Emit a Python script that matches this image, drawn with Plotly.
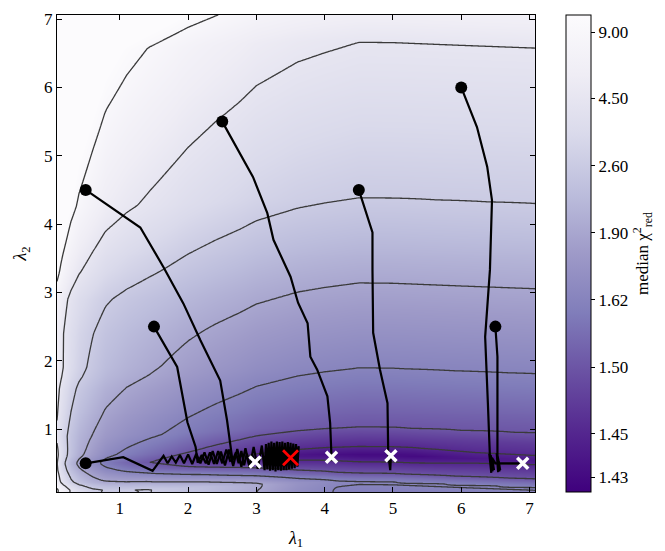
import numpy as np
import plotly.graph_objects as go

# ---------------- colour-bar ticks (normalised colour position -> label)
CB_POS = [0.031, 0.122, 0.262, 0.403, 0.543, 0.684, 0.826, 0.964]
CB_LABELS = ["1.43", "1.45", "1.50", "1.62", "1.90", "2.60", "4.50", "9.00"]
CONTOUR_START, CONTOUR_SIZE, CONTOUR_END = 0.122, 0.1405, 0.97

# ---------------- landscape description
S_X = [0.08, 0.5, 1.5, 2.2, 3.0, 4.0, 5.0, 6.0, 7.08]
S_Y = [-0.1, -0.1, -0.08, -0.04, 0.0, 0.03, 0.02, -0.02, -0.06]
U_Y = [-0.1, 0.1, 0.2, 0.28, 0.33, 0.42, 0.5, 0.6, 0.72, 1.0, 1.87, 3.11, 4.36, 6.66, 7.3]
U_V = [0.385, 0.39, 0.41, 0.33, 0.262, 0.19, 0.12, 0.03, 0.122, 0.262, 0.403, 0.543, 0.684, 0.826, 0.93]
B_X = [0.08, 0.15, 0.2, 0.28, 0.4, 0.6, 0.79, 1.1, 1.45, 2.0, 2.4, 2.75, 3.0, 3.6, 4.5, 7.08]
B_V = [0.8, 0.7, 0.65, 0.57, 0.49, 0.41, 0.34, 0.28, 0.23, 0.16, 0.12, 0.09, 0.065, 0.03, 0.0, 0.0]
M_Y = [-0.1, 0.1, 0.3, 0.5, 0.6, 0.8, 1.0, 1.3, 1.7, 2.0, 2.5, 3.0, 3.4, 4.5, 5.5, 7.3]
M_V = [0.7, 0.7, 0.75, 0.9, 1.0, 0.85, 0.68, 0.65, 0.6, 0.6, 0.52, 0.48, 0.52, 0.55, 0.57, 0.6]
BB_X = [0.08, 0.6, 1.0, 1.4, 2.2, 3.0, 3.6, 4.2, 7.08]
BB_V = [0.0, 0.0, 0.06, 0.12, 0.13, 0.11, 0.04, 0.0, 0.0]
WB_Y = [-0.1, 0.15, 0.35, 0.5]
WB_V = [1.0, 1.0, 0.6, 0.0]
R_X = [0.08, 5.3, 6.2, 7.08]
R_V = [0.0, 0.0, 0.04, 0.05]
W_Y = [0.35, 0.6, 0.85]
W_V = [0.0, 1.0, 0.0]

# ---------------- optimisation paths
T1_X = [0.5, 1.30, 1.64, 1.93, 2.18, 2.47, 2.57, 2.65, 2.70, 2.74, 2.78, 2.82, 2.86, 2.90, 2.94, 2.98]
T1_Y = [4.5, 3.95, 3.37, 2.84, 2.30, 1.71, 1.13, 0.54, 0.66, 0.50, 0.68, 0.47, 0.64, 0.45, 0.62, 0.52]
T2_X = [2.5, 2.95, 3.16, 3.25, 3.50, 3.61, 3.75, 3.79, 3.89, 4.04, 4.08, 4.10]
T2_Y = [5.5, 4.69, 4.16, 3.77, 3.23, 2.85, 2.55, 2.06, 1.87, 1.48, 1.09, 0.59]
T3_X = [4.5, 4.70, 4.70, 4.71, 4.81, 4.92, 4.93, 4.96, 4.97]
T3_Y = [4.5, 3.88, 3.33, 2.41, 1.87, 1.38, 0.65, 0.40, 0.61]
T4_X = [6.0, 6.23, 6.38, 6.45, 6.42, 6.35, 6.39, 6.42, 6.44, 6.41, 6.46, 6.43, 6.48, 6.45, 6.50, 6.9]
T4_Y = [6.0, 5.42, 4.84, 4.35, 3.33, 2.35, 1.38, 0.59, 0.36, 0.64, 0.38, 0.62, 0.40, 0.58, 0.50, 0.50]
T5_X = [6.5, 6.53, 6.53, 6.54, 6.52, 6.56, 6.53, 6.57, 6.55]
T5_Y = [2.5, 2.06, 0.59, 0.37, 0.65, 0.38, 0.62, 0.40, 0.52]
T6_X = [1.5, 1.84, 1.99, 2.11, 2.14, 2.20, 2.26, 2.32, 2.38, 2.44, 2.50, 2.56, 2.62]
T6_Y = [2.5, 1.91, 1.10, 0.74, 0.51, 0.62, 0.50, 0.66, 0.49, 0.68, 0.50, 0.70, 0.52]
T7_X = [0.5, 1.05, 1.48, 1.64, 1.70, 1.76, 1.82, 1.88, 1.94, 2.00, 2.06, 2.12, 2.18, 2.24,
        2.30, 2.36, 2.42, 2.48, 2.54, 2.60, 2.66, 2.72, 2.78, 2.84, 2.90, 2.96, 3.02, 3.08,
        3.12, 3.14, 3.16, 3.18, 3.20, 3.22, 3.24, 3.26, 3.28, 3.30, 3.32, 3.34, 3.36, 3.38,
        3.40, 3.42, 3.44, 3.46, 3.48, 3.50, 3.52, 3.54, 3.56, 3.58, 3.60, 3.62, 3.58, 3.54, 3.50]
T7_Y = [0.5, 0.59, 0.39, 0.61, 0.50, 0.60, 0.51, 0.62, 0.50, 0.63, 0.49, 0.64, 0.50, 0.66,
        0.48, 0.68, 0.49, 0.67, 0.47, 0.70, 0.46, 0.71, 0.45, 0.72, 0.44, 0.74, 0.42, 0.76,
        0.40, 0.78, 0.41, 0.80, 0.39, 0.82, 0.40, 0.80, 0.38, 0.82, 0.40, 0.81, 0.39, 0.82,
        0.40, 0.80, 0.40, 0.81, 0.41, 0.80, 0.42, 0.79, 0.43, 0.78, 0.45, 0.75, 0.50, 0.66, 0.58]
PATHS = [(T1_X, T1_Y), (T2_X, T2_Y), (T3_X, T3_Y), (T4_X, T4_Y),
         (T5_X, T5_Y), (T6_X, T6_Y), (T7_X, T7_Y)]
END_X = [2.98, 4.10, 4.97, 6.90]
END_Y = [0.52, 0.59, 0.61, 0.50]
BEST_X = [3.50]
BEST_Y = [0.58]

X_RANGE = [0.08, 7.08]
Y_RANGE = [0.08, 7.06]

# ---------------- build the field
xs = np.linspace(X_RANGE[0], X_RANGE[1], 241)
ys = np.linspace(Y_RANGE[0], Y_RANGE[1], 241)
XX, YY = np.meshgrid(xs, ys)
shift = np.interp(XX, S_X, S_Y)
YP = YY - shift
field = (np.interp(YP, U_Y, U_V)
         + np.interp(XX, B_X, B_V) * np.interp(YP, M_Y, M_V)
         + np.interp(XX, BB_X, BB_V) * np.interp(YP, WB_Y, WB_V)
         + np.interp(XX, R_X, R_V) * np.interp(YP, W_Y, W_V))
field = np.clip(field, 0, 1)

purples_r = [[0.0, '#3f007d'], [0.125, '#54278f'], [0.25, '#6a51a3'],
             [0.375, '#807dba'], [0.5, '#9e9ac8'], [0.625, '#bcbddc'],
             [0.75, '#dadaeb'], [0.875, '#efedf5'], [1.0, '#fcfbfd']]

FONT = "'Liberation Serif', 'DejaVu Serif', serif"

fig = go.Figure()
fig.add_trace(go.Heatmap(
    x=xs, y=ys, z=field, zmin=0, zmax=1, colorscale=purples_r, zsmooth='best',
    hoverinfo='skip',
    colorbar=dict(
        x=(566 - 57) / 478, xanchor='left', xref='paper', xpad=0, ypad=0,
        y=0.5, yanchor='middle', len=1.0, lenmode='fraction', thickness=25,
        outlinewidth=1, outlinecolor='black',
        tickvals=CB_POS, ticktext=CB_LABELS, ticks='outside', ticklen=4,
        tickcolor='black', tickfont=dict(family=FONT, size=17, color='black'),
        title=dict(text='median χ<sup>2</sup><sub>red</sub>', side='right',
                   font=dict(family=FONT, size=17, color='black')))))
fig.add_trace(go.Contour(
    x=xs, y=ys, z=field, showscale=False, autocontour=False,
    contours=dict(start=CONTOUR_START, end=CONTOUR_END, size=CONTOUR_SIZE,
                  coloring='lines'),
    colorscale=[[0, '#3a3a3a'], [1, '#3a3a3a']],
    line=dict(width=1.3, smoothing=0.6), hoverinfo='skip'))

for px, py in PATHS:
    fig.add_trace(go.Scatter(x=px, y=py, mode='lines',
                             line=dict(color='black', width=2.2), showlegend=False))
    fig.add_trace(go.Scatter(x=[px[0]], y=[py[0]], mode='markers',
                             marker=dict(color='black', size=12), showlegend=False))

fig.add_trace(go.Scatter(x=END_X, y=END_Y, mode='markers', showlegend=False,
                         marker=dict(symbol='x-thin', size=11,
                                     line=dict(color='white', width=3.5))))
fig.add_trace(go.Scatter(x=BEST_X, y=BEST_Y, mode='markers', showlegend=False,
                         marker=dict(symbol='x-thin', size=15,
                                     line=dict(color='red', width=2.8))))

axis_common = dict(showgrid=False, zeroline=False, showline=True, linecolor='black',
                   linewidth=1.2, mirror='ticks', ticks='inside', ticklen=5,
                   tickcolor='black', tickfont=dict(family=FONT, size=17, color='black'))
fig.update_xaxes(range=X_RANGE, tickvals=[1, 2, 3, 4, 5, 6, 7],
                 title=dict(text='<i>λ</i><sub>1</sub>', standoff=14,
                            font=dict(family=FONT, size=18, color='black')),
                 **axis_common)
fig.update_yaxes(range=Y_RANGE, tickvals=[1, 2, 3, 4, 5, 6, 7],
                 title=dict(text='<i>λ</i><sub>2</sub>', standoff=12,
                            font=dict(family=FONT, size=18, color='black')),
                 **axis_common)
fig.update_layout(width=665, height=551,
                  margin=dict(l=57, r=130, t=15, b=59, autoexpand=False),
                  paper_bgcolor='white', plot_bgcolor='white', showlegend=False,
                  font=dict(family=FONT, color='black'))
fig.write_html("out.html")
